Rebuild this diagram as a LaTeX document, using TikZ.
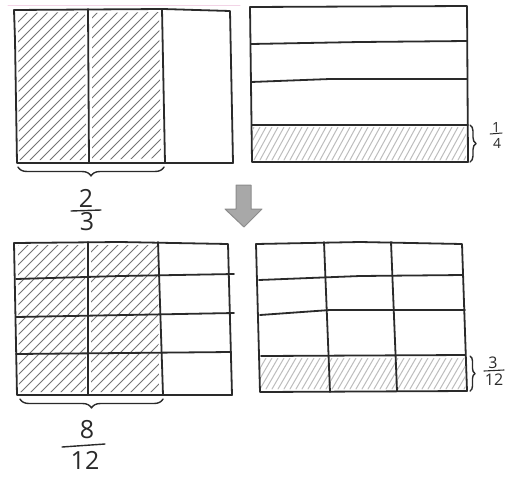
\documentclass[tikz,border=0pt]{standalone}
\usepackage{fontspec}
\setmainfont{Open Sans}
\usetikzlibrary{decorations.pathreplacing}
\definecolor{ink}{HTML}{2A2A2A}
\definecolor{hatchdark}{HTML}{737373}
\definecolor{hatchlight}{HTML}{BDBDBD}
\definecolor{arrowfill}{HTML}{A8A8A8}
\definecolor{arrowedge}{HTML}{8C8C8C}
\definecolor{pinkline}{HTML}{F2D4E6}
\begin{document}
\begin{tikzpicture}[x=1pt,y=-1pt,line cap=round,line join=round,
  gridline/.style={draw=ink,line width=1.8pt},
  darkhatch/.style={draw=hatchdark,line width=1pt},
  lighthatch/.style={draw=hatchlight,line width=1pt},
  bracestyle/.style={draw=ink,line width=1.4pt,decorate,decoration={brace,amplitude=#1}},
  bignum/.style={inner sep=0pt,text=ink,font=\fontsize{25}{25}\selectfont},
  smallnum/.style={inner sep=0pt,text=ink,font=\fontsize{14}{14}\selectfont},
  midnum/.style={inner sep=0pt,text=ink,font=\fontsize{16}{16}\selectfont},
  fracbar/.style={draw=ink,line width=1.4pt}]
\useasboundingbox (0,0) rectangle (505,477);
\fill[white] (0,0) rectangle (505,477);
\draw[pinkline,line width=1pt] (8,5) -- (240,5);

% ---------- top-left: thirds ----------
\begin{scope}
  \clip (18,13) -- (85,12) -- (86,160) -- (19,160) -- cycle;
  \foreach \i in {-160,-150,...,100} \draw[darkhatch] (\i,160) -- (\i+150,10);
\end{scope}
\begin{scope}
  \clip (92,13) -- (159,12) -- (161,158) -- (92,160) -- cycle;
  \foreach \i in {-80,-70,...,170} \draw[darkhatch] (\i,160) -- (\i+150,10);
\end{scope}
\draw[gridline] (14,10) -- (163,9) -- (230,11) -- (233,163) -- (17,163) -- (15,40) -- cycle;
\draw[gridline] (88,9) -- (89,163);
\draw[gridline] (162,9) -- (165,163);
\draw[bracestyle=9pt] (164,167) -- (18,167);
\node[bignum] (n23) at (86,198) {2};
\node[bignum] (d23) at (87,222) {3};
\draw[fracbar] (71,211) -- (101,210);

% ---------- top-right: quarters ----------
\begin{scope}
  \clip (253,127) rectangle (466,160);
  \foreach \i in {200,206,...,470} \draw[lighthatch] (\i,160) -- (\i+18,127);
\end{scope}
\draw[gridline] (250,7) -- (467,6) -- (468,162) -- (252,162) -- cycle;
\draw[gridline] (251,44) -- (360,42) -- (467,41);
\draw[gridline] (251,82) -- (330,79) -- (467,79);
\draw[gridline] (252,125) -- (468,125);
\draw[bracestyle=6pt] (470,125) -- (470,162);
\node[smallnum] (n14) at (496,127) {1};
\node[smallnum] (d14) at (497,143) {4};
\draw[fracbar,line width=1pt] (490,134) -- (502,133);

% ---------- arrow ----------
\filldraw[fill=arrowfill,draw=arrowedge,line width=1pt]
  (236,185) -- (251,185) -- (251,209) -- (262,209) -- (244,227) -- (225,209) -- (236,209) -- cycle;

% ---------- bottom-left: twelfths ----------
\begin{scope}
  \clip (18,245) -- (85,245) -- (86,392) -- (19,392) -- cycle;
  \foreach \i in {-160,-150,...,100} \draw[darkhatch] (\i,393) -- (\i+150,243);
\end{scope}
\begin{scope}
  \clip (91,245) -- (158,245) -- (159,392) -- (91,392) -- cycle;
  \foreach \i in {-80,-70,...,170} \draw[darkhatch] (\i,393) -- (\i+150,243);
\end{scope}
\draw[gridline] (14,243) -- (120,242) -- (228,244) -- (232,395) -- (17,395) -- cycle;
\draw[gridline] (88,242) -- (88,395);
\draw[gridline] (158,242) -- (163,395);
\draw[gridline] (16,279) -- (120,276) -- (234,274);
\draw[gridline] (16,317) -- (234,313);
\draw[gridline] (16,354) -- (231,352);
\draw[bracestyle=9pt] (163,399) -- (20,399);
\node[bignum] (n812) at (87,430) {8};
\node[bignum] (d812) at (85,460) {12};
\draw[fracbar] (62,447) -- (105,444);

% ---------- bottom-right: twelfths ----------
\begin{scope}
  \clip (260,358) rectangle (465,389);
  \foreach \i in {200,206,...,470} \draw[lighthatch] (\i,389) -- (\i+18,358);
\end{scope}
\draw[gridline] (256,244) -- (360,242) -- (462,244) -- (467,391) -- (260,392) -- cycle;
\draw[gridline] (324,242) -- (330,392);
\draw[gridline] (391,242) -- (397,391);
\draw[gridline] (259,280) -- (360,276) -- (463,275);
\draw[gridline] (260,315) -- (330,310) -- (465,310);
\draw[gridline] (261,356) -- (465,355);
\draw[bracestyle=5pt] (470,356) -- (470,391);
\node[midnum] (n312) at (493,363) {3};
\node[midnum] (d312) at (494,380) {12};
\draw[fracbar,line width=1.1pt] (484,371) -- (504,370);
\end{tikzpicture}
\end{document}
